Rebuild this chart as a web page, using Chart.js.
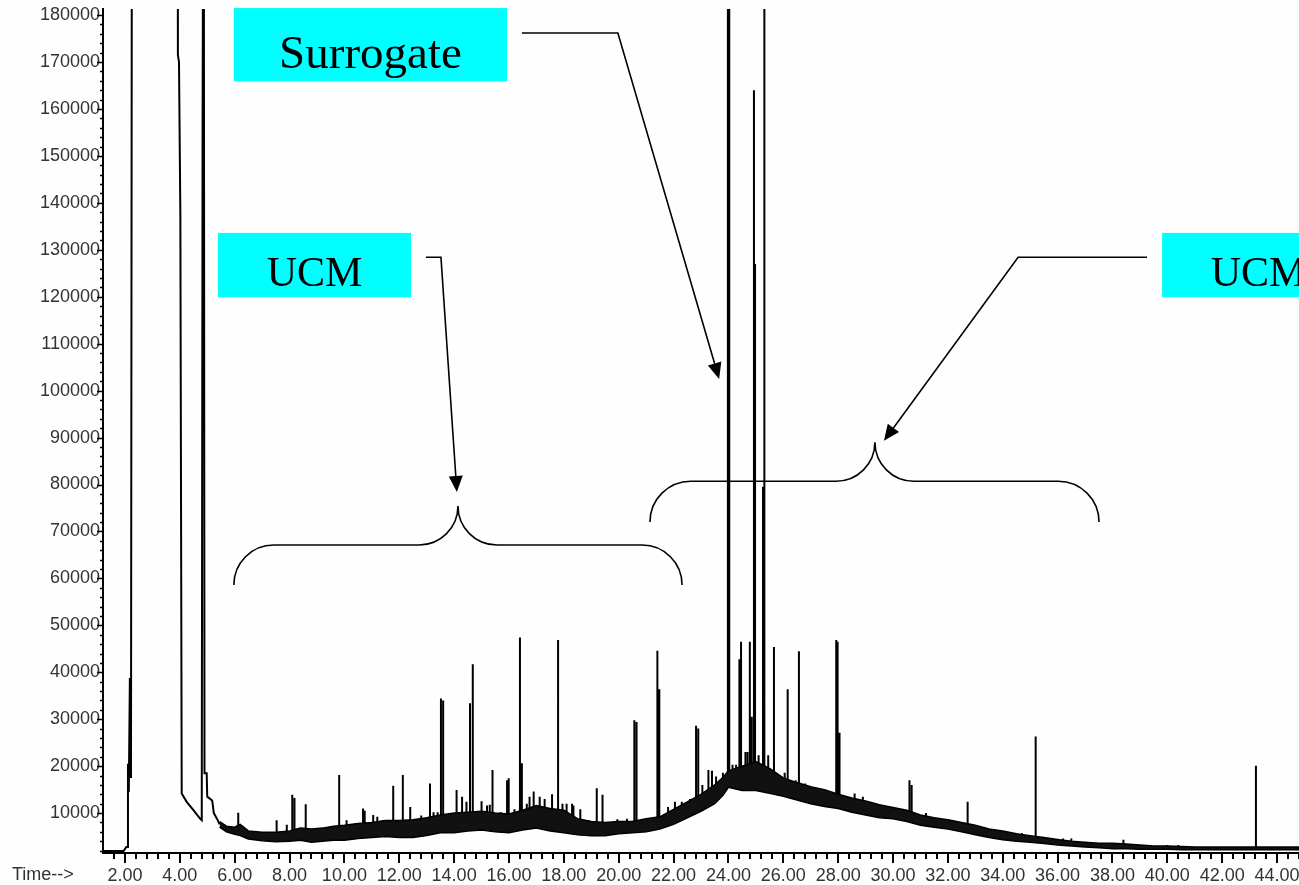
<!DOCTYPE html>
<html lang="en">
<head>
    <meta charset="UTF-8">
    <title>Chromatogram - UCM</title>
    <script src="https://cdn.jsdelivr.net/npm/chart.js@4.4.0/dist/chart.umd.min.js"></script>
    <style>
        html, body {
            margin: 0;
            padding: 0;
            background-color: #fefefe;
        }
        #wrap {
            width: 1299px;
            height: 885px;
        }
    </style>
</head>
<body>
    <div id="wrap">
        <canvas id="tic" width="1299" height="885"></canvas>
    </div>

    <script>
        // Axis tick labels: retention time (min) and abundance
        const timeTicks = [2, 4, 6, 8, 10, 12, 14, 16, 18, 20, 22, 24, 26, 28, 30, 32, 34, 36, 38, 40, 42, 44];
        const abundanceTicks = [10000, 20000, 30000, 40000, 50000, 60000, 70000, 80000, 90000,
            100000, 110000, 120000, 130000, 140000, 150000, 160000, 170000, 180000];

        // Solvent front and early peaks (250000 = off scale)
        const solventTime = [1.2, 1.95, 2.05, 2.08, 2.11, 2.14, 2.18, 2.22, 2.26, 3.92, 3.93, 3.97, 4.02, 4.07,
            4.25, 4.49, 4.73, 4.80, 4.83, 4.87, 4.90, 4.92, 4.98, 5.00, 5.18, 5.24, 5.38, 5.45];
        const solventSignal = [1900, 1900, 2800, 2800, 20500, 14500, 38800, 17500, 250000, 250000, 171500, 170000, 137500, 14200,
            12400, 10700, 8900, 8500, 156000, 250000, 18500, 18500, 18500, 13500, 12700, 10000, 8500, 7600];

        // Unresolved envelope: lower and upper edge of the noisy baseline
        const envTime = [5.45, 5.7, 6.0, 6.2, 6.5, 7.0, 7.5, 8.0, 8.4, 8.8, 9.2, 9.6, 10.0, 10.5, 11.0,
            11.5, 12.0, 12.5, 13.0, 13.5, 14.0, 14.5, 15.0, 15.5, 16.0, 16.5, 17.0, 17.5, 18.0, 18.5,
            19.0, 19.5, 20.0, 20.5, 21.0, 21.5, 22.0, 22.5, 23.0, 23.5, 23.8, 24.0, 24.5, 25.0, 25.5,
            26.0, 26.5, 27.0, 27.5, 28.0, 28.5, 29.0, 29.5, 30.0, 30.5, 31.0, 31.5, 32.0, 32.5, 33.0,
            33.5, 34.0, 34.5, 35.0, 35.5, 36.0, 36.5, 37.0, 37.5, 38.0, 38.5, 39.0, 39.5, 40.0, 40.5,
            41.0, 44.8];
        const envLow = [7000, 6000, 5500, 5200, 4500, 4100, 3900, 4000, 4200, 3800, 4000, 4200, 4200, 4600, 4800,
            5000, 4800, 4800, 5200, 5800, 5800, 6200, 6400, 6000, 5800, 6400, 6800, 6200, 5800, 5400,
            5200, 5200, 5600, 5800, 6000, 6600, 7600, 9000, 10400, 12000, 13800, 15500, 14800, 14800, 14200,
            13600, 12800, 12000, 11400, 11000, 10200, 9600, 9000, 8800, 8200, 7400, 7000, 6600, 6000, 5400,
            4800, 4300, 4000, 3800, 3500, 3200, 3000, 2800, 2600, 2400, 2400, 2300, 2300, 2300, 2200,
            2200, 2200];
        const envHigh = [8200, 7200, 7000, 7600, 6200, 5900, 5900, 6200, 6800, 6600, 6800, 7200, 7400, 7800, 8000,
            8400, 8400, 8600, 9000, 9600, 10000, 10200, 10400, 10000, 9800, 10600, 11600, 11000, 10600, 8800,
            8200, 8000, 8200, 8200, 8800, 9200, 10800, 12400, 14000, 16000, 17600, 19000, 20000, 21000, 19500,
            17500, 16500, 15600, 15000, 14000, 13200, 12600, 11800, 11200, 10600, 9600, 9000, 8600, 8000, 7400,
            6600, 6200, 5600, 5200, 4800, 4400, 4000, 3800, 3600, 3600, 3400, 3200, 3000, 3000, 2900,
            2800, 2800];

        // Resolved peaks: retention time, apex, foot
        const peakTime = [6.13, 7.53, 8.10, 8.18, 8.59, 9.81, 10.68, 10.74, 11.05, 11.39, 11.78, 12.13, 12.40,
            13.12, 13.52, 13.60, 14.09, 14.29, 14.58, 14.68, 15.00, 15.40, 15.93, 15.99, 16.40, 16.47,
            16.75, 16.90, 17.12, 17.30, 17.57, 17.79, 18.10, 18.30, 19.20, 19.41, 20.57, 20.65, 21.41,
            21.48, 22.82, 22.90, 23.27, 23.55, 23.98, 24.03, 24.40, 24.46, 24.78, 24.85, 24.93, 24.97,
            25.26, 25.31, 25.66, 26.16, 26.57, 27.93, 27.98, 28.05, 30.60, 30.68, 32.72, 35.20, 43.23];
        const peakApex = [10100, 8500, 13900, 13200, 11900, 18100, 11000, 10500, 9600, 8500, 15800, 18100, 11300,
            16300, 34400, 34000, 14900, 13500, 33400, 41700, 12500, 19200, 17000, 17400, 47400, 20600,
            13500, 14600, 13500, 13000, 14000, 46900, 12000, 12000, 15300, 13900, 29800, 29400, 44600,
            36400, 28600, 28000, 19200, 17800, 250000, 250000, 42800, 46500, 46500, 30500, 164000, 127000,
            79500, 250000, 45400, 36400, 44500, 46900, 46500, 27100, 17000, 16000, 12400, 26300, 20100];
        const peakFoot = [6200, 5000, 5200, 5200, 5000, 5500, 6200, 6200, 6400, 6600, 6600, 6600, 6600,
            7000, 7500, 7500, 8000, 8000, 8000, 8000, 8200, 8200, 8000, 8000, 8200, 8200,
            8500, 8500, 8800, 8800, 8600, 8400, 8000, 7500, 6600, 6600, 6800, 6800, 7400,
            7400, 11000, 11000, 12800, 14000, 16200, 16200, 17000, 17000, 17500, 17500, 18000, 18000,
            17500, 17500, 16500, 15200, 14600, 12600, 12600, 12400, 9600, 9600, 7000, 4400, 2500];

        // Small unresolved bumps riding on the envelope
        const bumpTime = [7.90, 10.08, 10.38, 11.20, 11.60, 12.80, 13.25, 13.40, 13.90, 14.45,
            15.20, 15.30, 15.70, 16.20, 16.65, 17.95, 18.35, 18.60, 18.90, 19.95,
            20.30, 21.00, 21.80, 22.05, 22.30, 22.60, 23.05, 23.40, 23.80, 24.15,
            24.28, 24.62, 24.70, 25.10, 25.45, 25.80, 26.05, 26.45, 26.80, 27.20,
            28.60, 28.90, 29.30, 29.70, 31.20, 31.60, 32.20, 33.00, 33.90, 34.70,
            35.70, 36.20, 36.50, 37.40, 38.40, 39.10, 40.00, 40.40];
        const bumpApex = [7500, 8500, 7800, 9200, 7000, 9500, 10200, 10200, 9700, 12400,
            11600, 11800, 10200, 10800, 12000, 12000, 11600, 10800, 8500, 8700,
            8800, 8700, 11300, 12400, 12400, 13000, 16000, 19000, 18600, 20300,
            20300, 23000, 23000, 22300, 22300, 17400, 18600, 17000, 16300, 14900,
            14200, 13500, 12100, 11000, 10000, 8500, 8100, 6700, 6300, 5700,
            4600, 4600, 4600, 3700, 4300, 3200, 3200, 3200];
        const bumpFoot = [4000, 4300, 4500, 4900, 5000, 5000, 5500, 5700, 5800, 6200,
            6200, 6100, 5900, 6000, 6500, 5900, 5500, 5300, 5200, 5600,
            5700, 6000, 7200, 7700, 8500, 9300, 10500, 11700, 13800, 15300,
            15100, 14800, 14800, 14700, 14300, 13800, 13500, 12900, 12300, 11800,
            10100, 9700, 9200, 8900, 7200, 6900, 6400, 5400, 4400, 3900,
            3400, 3100, 3000, 2600, 2400, 2300, 2300, 2200];

        const toPoints = (xs, ys) => xs.map((x, i) => ({ x: x, y: ys[i] }));

        // each peak is a vertical stroke from its foot to its apex, broken by a gap
        const strokes = (times, apex, foot) => {
            const pts = [];
            times.forEach((t, i) => {
                pts.push({ x: t, y: foot[i] }, { x: t, y: apex[i] }, { x: t, y: null });
            });
            return pts;
        };

        // Annotations, anchored in time / abundance units
        const noteBoxes = [
            { text: 'Surrogate', t0: 5.97, t1: 15.93, v0: 181500, v1: 165900, size: 47 },
            { text: 'UCM', t0: 5.39, t1: 12.43, v0: 133600, v1: 119900, size: 42 },
            { text: 'UCM', t0: 39.81, t1: 46.84, v0: 133600, v1: 119900, size: 42 }
        ];
        const noteArrows = [
            { path: [[16.47, 176200], [19.97, 176200], [23.66, 102500]] },
            { path: [[12.97, 128400], [13.52, 128400], [14.10, 78400]] },
            { path: [[39.26, 128400], [34.56, 128400], [29.67, 89300]] }
        ];
        const noteBraces = [
            { t0: 5.97, t1: 22.31, tc: 14.14, vEnd: 58600, vBar: 67100, vTip: 75400 },
            { t0: 21.14, t1: 37.51, tc: 29.34, vEnd: 72000, vBar: 80700, vTip: 89000 }
        ];

        const labelFont = { family: "'Liberation Sans', Arial, sans-serif", size: 18 };
        const labelColor = '#333';

        // Tick marks on both axes plus the "Time-->" caption
        const axisMarks = {
            id: 'axisMarks',
            afterDraw(chart) {
                const { ctx, scales: { x, y }, chartArea: a } = chart;
                ctx.save();
                ctx.strokeStyle = '#000';
                ctx.lineWidth = 2;
                ctx.beginPath();
                for (let k = 4; k <= 112; k++) {
                    const px = Math.round(x.getPixelForValue(k * 0.4));
                    const len = k % 5 === 0 ? 10 : 6;
                    ctx.moveTo(px, a.bottom);
                    ctx.lineTo(px, a.bottom + len);
                }
                ctx.stroke();
                ctx.lineWidth = 1.5;
                ctx.beginPath();
                for (let v = 2000; v <= 180000; v += 2000) {
                    const py = Math.round(y.getPixelForValue(v)) + 0.5;
                    const len = v % 10000 === 0 ? 6 : 3;
                    ctx.moveTo(a.left, py);
                    ctx.lineTo(a.left - len, py);
                }
                ctx.stroke();
                ctx.fillStyle = labelColor;
                ctx.font = labelFont.size + 'px ' + labelFont.family;
                ctx.textAlign = 'left';
                ctx.textBaseline = 'middle';
                ctx.fillText('Time-->', 12, 875);
                ctx.restore();
            }
        };

        function drawArrow(ctx, pts) {
            const n = pts.length;
            const [ex, ey] = pts[n - 1];
            const [sx, sy] = pts[n - 2];
            const ang = Math.atan2(ey - sy, ex - sx);
            const head = 16, half = 7;
            const bx = ex - head * Math.cos(ang), by = ey - head * Math.sin(ang);
            ctx.beginPath();
            ctx.moveTo(pts[0][0], pts[0][1]);
            for (let i = 1; i < n - 1; i++) ctx.lineTo(pts[i][0], pts[i][1]);
            ctx.lineTo(bx, by);
            ctx.stroke();
            ctx.beginPath();
            ctx.moveTo(ex, ey);
            ctx.lineTo(bx + half * Math.sin(ang), by - half * Math.cos(ang));
            ctx.lineTo(bx - half * Math.sin(ang), by + half * Math.cos(ang));
            ctx.closePath();
            ctx.fill();
        }

        function drawBrace(ctx, x0, x1, xc, yEnd, yBar, yTip) {
            const R = yEnd - yBar;
            const r = yBar - yTip;
            ctx.beginPath();
            ctx.moveTo(x0, yEnd);
            ctx.arc(x0 + R, yEnd, R, Math.PI, 1.5 * Math.PI);
            ctx.lineTo(xc - r, yBar);
            ctx.arc(xc - r, yBar - r, r, 0.5 * Math.PI, 0, true);
            ctx.arc(xc + r, yBar - r, r, Math.PI, 0.5 * Math.PI, true);
            ctx.lineTo(x1 - R, yBar);
            ctx.arc(x1 - R, yEnd, R, 1.5 * Math.PI, 2 * Math.PI);
            ctx.stroke();
        }

        const notes = {
            id: 'notes',
            afterDraw(chart) {
                const { ctx, scales: { x, y } } = chart;
                const px = t => x.getPixelForValue(t);
                const py = v => y.getPixelForValue(v);
                ctx.save();
                noteBoxes.forEach(b => {
                    const l = px(b.t0), r = px(b.t1), top = py(b.v0), bot = py(b.v1);
                    ctx.fillStyle = '#00ffff';
                    ctx.fillRect(l, top, r - l, bot - top);
                    ctx.fillStyle = '#000';
                    ctx.font = b.size + "px 'Liberation Serif', 'Times New Roman', serif";
                    ctx.textAlign = 'center';
                    ctx.textBaseline = 'alphabetic';
                    ctx.fillText(b.text, (l + r) / 2, top + 0.82 * (bot - top));
                });
                ctx.strokeStyle = '#000';
                ctx.fillStyle = '#000';
                ctx.lineWidth = 1.6;
                noteArrows.forEach(a => drawArrow(ctx, a.path.map(p => [px(p[0]), py(p[1])])));
                noteBraces.forEach(b => drawBrace(ctx, px(b.t0), px(b.t1), px(b.tc), py(b.vEnd), py(b.vBar), py(b.vTip)));
                ctx.restore();
            }
        };

        // drop the label overhang padding so the plot fills the frame
        const noOverhang = s => {
            s.paddingTop = 0;
            s.paddingBottom = 0;
            s.paddingLeft = 0;
            s.paddingRight = 0;
        };

        const ticChart = new Chart(document.getElementById('tic'), {
            type: 'line',
            data: {
                datasets: [
                    {
                        data: toPoints(envTime, envLow),
                        borderColor: '#000',
                        borderWidth: 1.5,
                        fill: false
                    },
                    {
                        data: toPoints(envTime, envHigh),
                        borderColor: '#000',
                        backgroundColor: '#111',
                        borderWidth: 1.5,
                        fill: '-1'
                    },
                    {
                        data: toPoints(solventTime, solventSignal),
                        borderColor: '#000',
                        borderWidth: 2,
                        fill: false
                    },
                    {
                        data: strokes(bumpTime, bumpApex, bumpFoot),
                        borderColor: '#000',
                        borderWidth: 2,
                        fill: false,
                        spanGaps: false
                    },
                    {
                        data: strokes(peakTime, peakApex, peakFoot),
                        borderColor: '#000',
                        borderWidth: 2,
                        fill: false,
                        spanGaps: false
                    }
                ]
            },
            options: {
                responsive: false,
                animation: false,
                layout: { padding: { top: 9, left: 0, right: 0, bottom: 0 } },
                elements: {
                    point: { radius: 0 },
                    line: { tension: 0 }
                },
                plugins: {
                    legend: { display: false },
                    tooltip: { enabled: false }
                },
                scales: {
                    x: {
                        type: 'linear',
                        min: 1.2,
                        max: 44.8,
                        afterBuildTicks: s => { s.ticks = timeTicks.map(v => ({ value: v })); },
                        afterFit: s => { s.height = 32; noOverhang(s); },
                        grid: { display: false, drawTicks: false },
                        border: { display: true, color: '#000', width: 2 },
                        ticks: {
                            autoSkip: false,
                            maxRotation: 0,
                            padding: 12,
                            color: labelColor,
                            font: labelFont,
                            callback: v => Number(v).toFixed(2)
                        }
                    },
                    y: {
                        min: 1500,
                        max: 181300,
                        afterBuildTicks: s => { s.ticks = abundanceTicks.map(v => ({ value: v })); },
                        afterFit: s => { s.width = 103; noOverhang(s); },
                        grid: { display: false, drawTicks: false },
                        border: { display: true, color: '#000', width: 2 },
                        ticks: {
                            autoSkip: false,
                            padding: 3,
                            color: labelColor,
                            font: labelFont,
                            callback: v => String(v)
                        }
                    }
                }
            },
            plugins: [axisMarks, notes]
        });
    </script>
</body>
</html>
